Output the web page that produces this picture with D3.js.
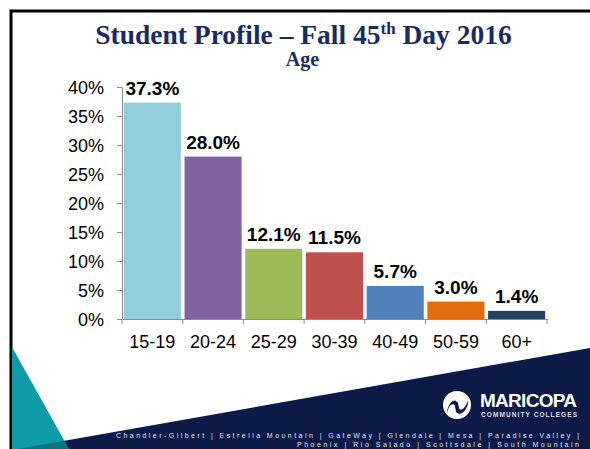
<!DOCTYPE html>
<meta charset="utf-8">
<body>
<script src="https://cdn.jsdelivr.net/npm/d3@7"></script>
<style>
    html, body {
        margin: 0;
        background: #fff;
    }
</style>
<script>
var categories = ["15-19", "20-24", "25-29", "30-39", "40-49", "50-59", "60+"],
    values = [37.3, 28.0, 12.1, 11.5, 5.7, 3.0, 1.4],
    yTicks = [0, 5, 10, 15, 20, 25, 30, 35, 40],
    colleges1 = "Chandler-Gilbert | Estrella Mountain | GateWay | Glendale | Mesa | Paradise Valley |",
    colleges2 = "Phoenix | Rio Salado | Scottsdale | South Mountain";

var colors = ["#92cddc", "#8064a2", "#9bbb59", "#c0504d", "#4f81bd", "#e46c0a", "#243f60"];

var width = 590,
    height = 449;

var svg = d3.select("body").append("svg")
    .attr("width", width)
    .attr("height", height);

// slide frame
svg.append("path")
    .attr("d", "M11,449V11H590")
    .attr("fill", "none")
    .attr("stroke", "#000")
    .attr("stroke-width", 3);

// bottom decoration
svg.append("path")
    .attr("d", "M12,450L590,348V449H12Z")
    .attr("fill", "#0c1a48");
svg.append("path")
    .attr("d", "M12,347L69,449H12Z")
    .attr("fill", "#0e9ba6");
svg.append("path")
    .attr("d", "M12,450L64.4,440.8L69,449H12Z")
    .attr("fill", "#0b7284");

// title
var title = svg.append("text")
    .attr("x", 303.5)
    .attr("y", 44)
    .attr("text-anchor", "middle")
    .style("font-family", "'Liberation Serif', serif")
    .style("font-weight", "bold")
    .style("font-size", "27.5px")
    .attr("fill", "#1a2b62");
title.append("tspan").text("Student Profile \u2013 Fall 45");
title.append("tspan").attr("dy", -10).style("font-size", "17px").text("th");
title.append("tspan").attr("dy", 10).text(" Day 2016");

svg.append("text")
    .attr("x", 302.5)
    .attr("y", 66)
    .attr("text-anchor", "middle")
    .style("font-family", "'Liberation Serif', serif")
    .style("font-weight", "bold")
    .style("font-size", "20px")
    .attr("fill", "#1a2b62")
    .text("Age");

// scales
var x = d3.scaleBand()
    .domain(categories)
    .range([122, 547])
    .paddingInner(0.06)
    .paddingOuter(0.03);

var y = d3.scaleLinear()
    .domain([0, 40])
    .range([319, 87]);

// bars
svg.selectAll("rect.bar")
    .data(values)
    .enter().append("rect")
    .attr("class", "bar")
    .attr("x", function(d, i) { return x(categories[i]); })
    .attr("y", function(d) { return y(d); })
    .attr("width", x.bandwidth())
    .attr("height", function(d) { return y(0) - y(d); })
    .attr("fill", function(d, i) { return colors[i]; });

svg.selectAll("text.val")
    .data(values)
    .enter().append("text")
    .attr("class", "val")
    .attr("x", function(d, i) { return x(categories[i]) + x.bandwidth() / 2; })
    .attr("y", function(d) { return y(d) - 8; })
    .attr("text-anchor", "middle")
    .style("font-family", "'Liberation Sans', Arial, sans-serif")
    .style("font-weight", "bold")
    .style("font-size", "19px")
    .attr("fill", "#000")
    .text(function(d) { return d.toFixed(1) + "%"; });

// y axis
var yAxis = svg.append("g")
    .attr("transform", "translate(122,0)")
    .call(d3.axisLeft(y)
        .tickValues(yTicks)
        .tickSize(5)
        .tickSizeOuter(0)
        .tickPadding(13)
        .tickFormat(function(d) { return d + "%"; }));

// x axis
var xAxis = svg.append("g")
    .attr("transform", "translate(0,319)")
    .call(d3.axisBottom(x)
        .tickSize(0)
        .tickSizeOuter(0)
        .tickPadding(16));

xAxis.selectAll(".boundary")
    .data(d3.range(categories.length + 1))
    .enter().append("line")
    .attr("class", "boundary")
    .attr("x1", function(i) { return x.range()[0] + i * x.step(); })
    .attr("x2", function(i) { return x.range()[0] + i * x.step(); })
    .attr("y1", 0)
    .attr("y2", 5)
    .attr("stroke", "#8c8c8c");

[yAxis, xAxis].forEach(function(g) {
    g.selectAll("path, line").attr("stroke", "#8c8c8c");
    g.selectAll("text")
        .style("font-family", "'Liberation Sans', Arial, sans-serif")
        .style("font-size", "18px")
        .attr("fill", "#000");
});
yAxis.selectAll("text").attr("dy", "0.36em");

// logo
var logo = svg.append("g").attr("transform", "translate(457,405)");
logo.append("circle").attr("r", 14).attr("fill", "#fff");
logo.append("path")
    .attr("d", "M-10,6C-7,-5 -2,-7 1,-2L2,3C4,7 8,3 11,-4L11,-1C8,8 3,11 -1,7L-2,1C-4,-3 -8,0 -10,8Z")
    .attr("fill", "#0c1a48");

svg.append("text")
    .attr("x", 480)
    .attr("y", 407)
    .attr("textLength", 97)
    .style("font-family", "'Liberation Sans', Arial, sans-serif")
    .style("font-weight", "bold")
    .style("font-size", "19px")
    .attr("fill", "#fff")
    .text("MARICOPA");

svg.append("text")
    .attr("x", 481)
    .attr("y", 416.5)
    .attr("textLength", 96)
    .style("font-family", "'Liberation Sans', Arial, sans-serif")
    .style("font-weight", "bold")
    .style("font-size", "6.5px")
    .attr("fill", "#d8dde8")
    .text("COMMUNITY COLLEGES");

// college list
svg.append("text")
    .attr("x", 116)
    .attr("y", 438)
    .attr("textLength", 463)
    .attr("lengthAdjust", "spacing")
    .style("font-family", "'Liberation Sans', Arial, sans-serif")
    .style("font-size", "7px")
    .attr("fill", "#dfe3ea")
    .text(colleges1);

svg.append("text")
    .attr("x", 297)
    .attr("y", 447)
    .attr("textLength", 282)
    .attr("lengthAdjust", "spacing")
    .style("font-family", "'Liberation Sans', Arial, sans-serif")
    .style("font-size", "7px")
    .attr("fill", "#dfe3ea")
    .text(colleges2);
</script>
